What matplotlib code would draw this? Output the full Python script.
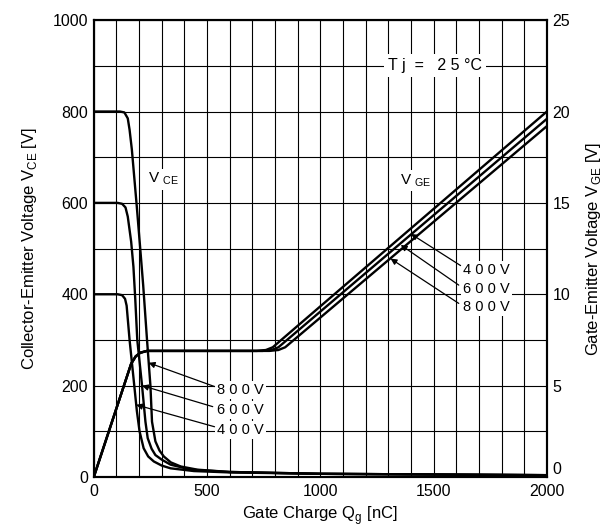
import matplotlib
matplotlib.use("Agg")
import matplotlib.pyplot as plt

plt.rcParams['font.family'] = ['Liberation Sans', 'DejaVu Sans']
plt.rcParams['mathtext.fontset'] = 'custom'
plt.rcParams['mathtext.rm'] = 'Liberation Sans'

# Collector-emitter voltage curves (Qg [nC], VCE [V])
qce_400 = [0, 105, 125, 138, 145, 158, 175, 190, 202, 220, 240, 265, 300, 339, 442, 600, 1000, 2000]
vce_400 = [400, 400, 398, 390, 375, 300, 218, 145, 100, 63, 45, 34, 25, 19, 13, 10, 7, 4]

qce_600 = [0, 105, 125, 140, 150, 165, 175, 183, 192, 213, 228, 238, 255, 272, 300, 339, 429, 600, 1000, 2000]
vce_600 = [600, 600, 598, 590, 570, 515, 460, 390, 300, 200, 121, 85, 62, 48, 38, 27, 16, 11, 7, 4]

qce_800 = [0, 115, 135, 150, 158, 168, 190, 205, 218, 235, 250, 257, 272, 290, 309, 340, 384, 458, 600, 1000, 2000]
vce_800 = [800, 800, 798, 785, 760, 717, 591, 500, 420, 300, 200, 121, 78, 58, 45, 32, 23, 16, 11, 7, 4]

# Gate-emitter voltage curves (Qg [nC], VGE [V])
qge_400 = [0, 165, 185, 205, 235, 720, 760, 790, 2000]
vge_400 = [0, 6.2, 6.6, 6.8, 6.9, 6.9, 6.95, 7.1, 20.0]
qge_600 = [0, 165, 185, 205, 235, 745, 785, 815, 2000]
vge_600 = [0, 6.2, 6.6, 6.8, 6.9, 6.9, 6.95, 7.1, 19.6]
qge_800 = [0, 165, 185, 205, 235, 775, 815, 845, 2000]
vge_800 = [0, 6.2, 6.6, 6.8, 6.9, 6.9, 6.95, 7.1, 19.2]

labels = ['8 0 0 V', '6 0 0 V', '4 0 0 V']
ce_tips = [(242, 250), (213, 200), (187, 158)]
ce_tails = [(533, 198), (525, 154), (533, 110)]
ce_text_y = [190, 147, 103]

ge_labels = ['4 0 0 V', '6 0 0 V', '8 0 0 V']
ge_tips = [(1400, 13.3), (1355, 12.7), (1310, 11.95)]
ge_tails = [(1619, 11.57), (1611, 10.5), (1611, 9.5)]
ge_text_y = [11.3, 10.3, 9.3]

fig = plt.figure(figsize=(6.09, 5.30), dpi=100)
ax = fig.add_axes([0.154, 0.1, 0.744, 0.862])
ax2 = ax.twinx()

ax.set_xlim(0, 2000)
ax.set_ylim(0, 1000)
ax2.set_ylim(0, 25)
ax.set_xticks([0, 500, 1000, 1500, 2000])
ax.set_yticks([0, 200, 400, 600, 800, 1000])
ax2.set_yticks([0, 5, 10, 15, 20, 25])
ax.set_xticks(range(0, 2001, 100), minor=True)
ax.set_yticks(range(0, 1001, 100), minor=True)
ax.set_axisbelow(True)
ax.grid(which='both', color='black', linewidth=0.8)
for a in (ax, ax2):
    a.tick_params(which='both', length=0, labelsize=11.5, pad=4)
    for s in a.spines.values():
        s.set_linewidth(1.5)
ax.tick_params(axis='x', pad=5)
ax2.get_yticklabels()[0].set_verticalalignment('bottom')

lw = 1.7
ax.plot(qce_400, vce_400, color='black', lw=lw, zorder=4)
ax.plot(qce_600, vce_600, color='black', lw=lw, zorder=4)
ax.plot(qce_800, vce_800, color='black', lw=lw, zorder=4)
ax2.plot(qge_400, vge_400, color='black', lw=lw, zorder=4)
ax2.plot(qge_600, vge_600, color='black', lw=lw, zorder=4)
ax2.plot(qge_800, vge_800, color='black', lw=lw, zorder=4)

box = dict(facecolor='white', edgecolor='none', pad=1.5)
for lab, tip, tail, ty in zip(labels, ce_tips, ce_tails, ce_text_y):
    ax.annotate('', xy=tip, xytext=tail,
                arrowprops=dict(arrowstyle='-|>', color='black', lw=0.9,
                                mutation_scale=9, shrinkA=0, shrinkB=0), zorder=5)
    ax.text(545, ty, lab, fontsize=10.5, va='center', ha='left', bbox=box, zorder=3)

for lab, tip, tail, ty in zip(ge_labels, ge_tips, ge_tails, ge_text_y):
    ax2.annotate('', xy=tip, xytext=tail,
                 arrowprops=dict(arrowstyle='-|>', color='black', lw=0.9,
                                 mutation_scale=9, shrinkA=0, shrinkB=0), zorder=5)
    ax2.text(1630, ty, lab, fontsize=10.5, va='center', ha='left', bbox=box, zorder=3)

ax.text(1505, 900, 'T j  =   2 5 \u00b0C', fontsize=11.5, ha='center', va='center',
        bbox=dict(facecolor='white', edgecolor='none', pad=3), zorder=3)
ax.text(309, 652, r'V $_{\mathrm{CE}}$', fontsize=11, ha='center', va='center',
        bbox=box, zorder=3)
ax2.text(1420, 16.2, r'V $_{\mathrm{GE}}$', fontsize=11, ha='center', va='center',
         bbox=box, zorder=3)

ax.set_xlabel(r'Gate Charge Q$_{\mathrm{g}}$ [nC]', fontsize=12, labelpad=4)
ax.set_ylabel(r'Collector-Emitter Voltage V$_{\mathrm{CE}}$ [V]', fontsize=12, labelpad=10)
ax2.set_ylabel(r'Gate-Emitter Voltage V$_{\mathrm{GE}}$ [V]', fontsize=12, labelpad=10,
               rotation=90)

fig.savefig('out.png', dpi=100)
